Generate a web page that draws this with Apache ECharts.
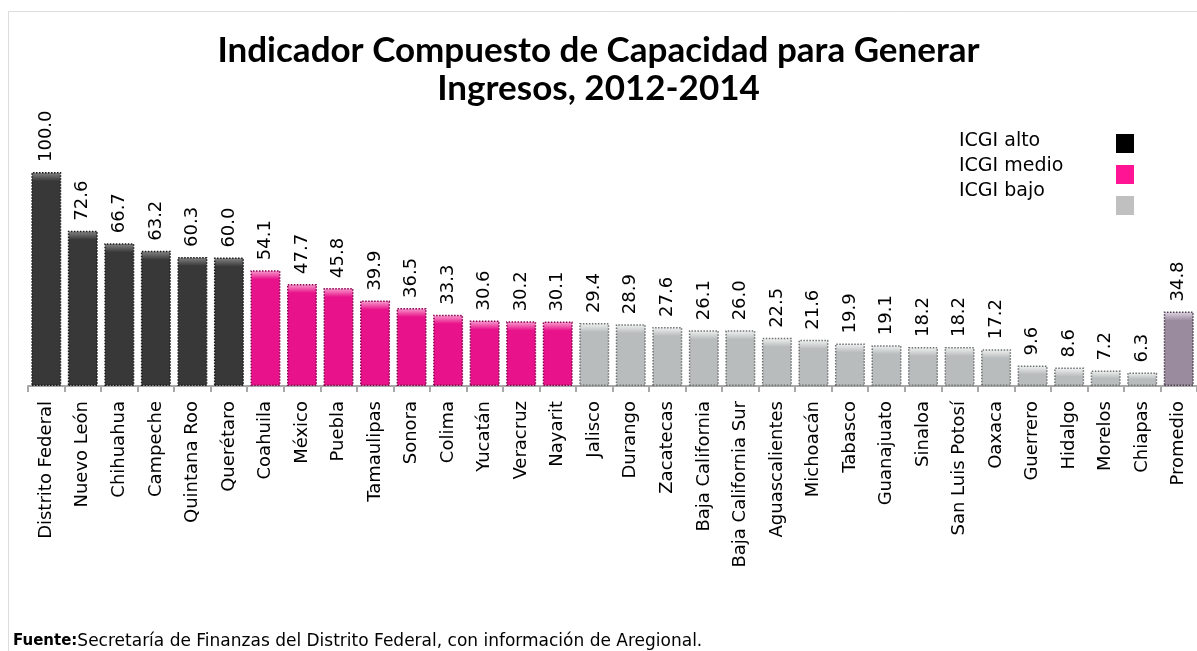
<!DOCTYPE html>
<html>
<head>
<meta charset="utf-8">
<script src="https://cdn.jsdelivr.net/npm/echarts@6/dist/echarts.min.js"></script>
<style>
html,body{margin:0;padding:0;background:#fff;}
#chart{width:1197px;height:651px;}
</style>
</head>
<body>
<div id="chart"></div>
<script>
var categories = ['Distrito Federal','Nuevo León','Chihuahua','Campeche','Quintana Roo','Querétaro','Coahuila','México','Puebla','Tamaulipas','Sonora','Colima','Yucatán','Veracruz','Nayarit','Jalisco','Durango','Zacatecas','Baja California','Baja California Sur','Aguascalientes','Michoacán','Tabasco','Guanajuato','Sinaloa','San Luis Potosí','Oaxaca','Guerrero','Hidalgo','Morelos','Chiapas','Promedio'];
var values = [100.0,72.6,66.7,63.2,60.3,60.0,54.1,47.7,45.8,39.9,36.5,33.3,30.6,30.2,30.1,29.4,28.9,27.6,26.1,26.0,22.5,21.6,19.9,19.1,18.2,18.2,17.2,9.6,8.6,7.2,6.3,34.8];
var groups = ['alto','alto','alto','alto','alto','alto','medio','medio','medio','medio','medio','medio','medio','medio','medio','bajo','bajo','bajo','bajo','bajo','bajo','bajo','bajo','bajo','bajo','bajo','bajo','bajo','bajo','bajo','bajo','promedio'];
var seriesNames = ['ICGI alto','ICGI medio','ICGI bajo','Promedio'];
var groupKeys = ['alto','medio','bajo','promedio'];
var titleText = 'Indicador Compuesto de Capacidad para Generar\nIngresos, 2012-2014';
var sourceBold = 'Fuente:';
var sourceText = 'Secretaría de Finanzas del Distrito Federal, con información de Aregional.';

var palette = {
  alto: {base:'#383838', light:'#8a8a8a', border:'#1a1a1a'},
  medio: {base:'#e8138a', light:'#f9a6d3', border:'#8a0050'},
  bajo: {base:'#b9bcbc', light:'#f4f6f6', border:'#6f7272'},
  promedio: {base:'#9b8b9f', light:'#e3d8e6', border:'#4a3e4d'}
};
var legendSwatch = ['#000000','#ff1493','#c0c0c0'];
var PX_PER_UNIT = 2.14;

function barColor(key){
  var p = palette[key];
  return function(params){
    var h = Math.max(params.value * PX_PER_UNIT, 1);
    var f = Math.min(9 / h, 0.5);
    return new echarts.graphic.LinearGradient(0,0,0,1,[
      {offset:0,color:p.light},
      {offset:f,color:p.base},
      {offset:1,color:p.base}
    ]);
  };
}

var series = groupKeys.map(function(key, gi){
  return {
    name: seriesNames[gi],
    type: 'bar',
    stack: 'all',
    barWidth: 30,
    data: values.map(function(v,i){ return groups[i] === key ? v : '-'; }),
    itemStyle: {
      color: barColor(key),
      borderColor: palette[key].border,
      borderWidth: 1.5,
      borderType: 'dotted'
    },
    label: {
      show: true,
      position: 'top',
      rotate: 90,
      align: 'left',
      verticalAlign: 'middle',
      distance: 10,
      fontFamily: 'DejaVu Sans',
      fontSize: 18,
      color: '#000',
      formatter: function(p){ return p.value.toFixed(1); }
    }
  };
});

var chart = echarts.init(document.getElementById('chart'));
chart.setOption({
  backgroundColor: '#fff',
  animation: false,
  title: [{
    text: titleText,
    left: 'center',
    top: 27,
    textStyle: {fontFamily:'Lato', fontWeight:'bold', fontSize:35, lineHeight:38, color:'#000'}
  },{
    text: '{b|' + sourceBold + '}' + sourceText,
    left: 8,
    top: 628,
    textStyle: {
      fontFamily:'DejaVu Sans', fontSize:17, fontWeight:'normal', color:'#000',
      rich: {b:{fontFamily:'DejaVu Sans', fontSize:15, fontWeight:'bold', color:'#000'}}
    }
  }],
  legend: [{
    data: seriesNames.slice(0,3),
    orient: 'vertical',
    left: 948,
    top: 125,
    itemWidth: 0,
    itemHeight: 0,
    itemGap: 3,
    selectedMode: false,
    textStyle: {fontFamily:'DejaVu Sans', fontSize:19, lineHeight:22, color:'#000'}
  },{
    data: seriesNames.slice(0,3).map(function(n,i){ return {name:n, itemStyle:{color:legendSwatch[i], borderWidth:0}}; }),
    orient: 'vertical',
    left: 1111,
    top: 129,
    icon: 'rect',
    itemWidth: 18,
    itemHeight: 19,
    itemGap: 12,
    selectedMode: false,
    formatter: function(){ return ''; }
  }],
  grid: {left: 28, right: -6, top: 172, bottom: 265, containLabel: false},
  xAxis: {
    type: 'category',
    data: categories,
    axisLine: {lineStyle:{color:'#a8a8a8', width:2}},
    axisTick: {show:true, length:6, lineStyle:{color:'#a8a8a8', width:2}},
    axisLabel: {interval:0, rotate:90, margin:15, fontFamily:'DejaVu Sans', fontSize:18, color:'#000'}
  },
  yAxis: {type:'value', min:0, max:100, show:false},
  graphic: [{
    type:'rect', z:-10, silent:true,
    shape:{x:8.5, y:11.5, width:1300, height:800},
    style:{fill:'none', stroke:'#dddddd', lineWidth:1}
  }],
  series: series
});
</script>
</body>
</html>
